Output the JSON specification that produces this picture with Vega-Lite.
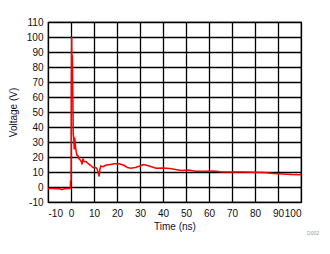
{
  "$schema": "https://vega.github.io/schema/vega-lite/v6.json",
  "width": 253,
  "height": 180,
  "autosize": {"type": "none"},
  "padding": {"left": 48, "top": 22, "right": 29, "bottom": 52},
  "background": "white",
  "title": {"text": "D002", "orient": "bottom", "anchor": "end", "fontSize": 5, "color": "#999999", "font": "Liberation Sans", "fontWeight": "normal", "offset": 0, "dx": 15},
  "config": {
    "view": {"stroke": "black", "strokeWidth": 1.2},
    "axis": {"labelFont": "Liberation Sans", "titleFont": "Liberation Sans", "labelFontSize": 10, "titleFontSize": 10, "titleFontWeight": "normal", "labelColor": "#111111", "titleColor": "#111133", "gridColor": "black", "gridWidth": 1.3, "gridOpacity": 1, "domain": false, "ticks": false, "labelExpr": "'' + datum.value"}
  },
  "data": {"values": [
    {"t": -10, "v": -1}, {"t": -8, "v": -1}, {"t": -6, "v": -1.2}, {"t": -5, "v": -1}, {"t": -4, "v": -1.8}, {"t": -3, "v": -1.2}, {"t": -1, "v": -1}, {"t": -0.3, "v": -1},
    {"t": -0.2, "v": 4}, {"t": 0.05, "v": 4}, {"t": 0.15, "v": 65}, {"t": 0.3, "v": 100}, {"t": 0.45, "v": 65}, {"t": 0.6, "v": 88}, {"t": 0.8, "v": 60},
    {"t": 1.0, "v": 35}, {"t": 1.2, "v": 33}, {"t": 1.4, "v": 25}, {"t": 1.6, "v": 33}, {"t": 1.9, "v": 28}, {"t": 2.2, "v": 24}, {"t": 2.6, "v": 21}, {"t": 3.0, "v": 21},
    {"t": 3.4, "v": 19}, {"t": 4.0, "v": 18}, {"t": 4.5, "v": 17}, {"t": 4.8, "v": 15}, {"t": 5.2, "v": 19}, {"t": 5.6, "v": 17}, {"t": 6.5, "v": 17}, {"t": 7.5, "v": 15.5},
    {"t": 8.5, "v": 14.5}, {"t": 9.5, "v": 13}, {"t": 10.5, "v": 13}, {"t": 11.2, "v": 12.5}, {"t": 11.8, "v": 10}, {"t": 12.2, "v": 7}, {"t": 12.6, "v": 12},
    {"t": 13, "v": 14}, {"t": 14, "v": 13.5}, {"t": 15, "v": 14.5}, {"t": 17, "v": 15}, {"t": 19, "v": 15.5}, {"t": 21, "v": 15.5}, {"t": 23, "v": 14.5},
    {"t": 24.5, "v": 13}, {"t": 26, "v": 12.5}, {"t": 28, "v": 13}, {"t": 30, "v": 14}, {"t": 31.5, "v": 15}, {"t": 33, "v": 14.5}, {"t": 35, "v": 13.5},
    {"t": 37, "v": 12.5}, {"t": 40, "v": 12.7}, {"t": 43, "v": 12.3}, {"t": 46, "v": 11.5}, {"t": 48, "v": 11}, {"t": 51, "v": 11.3}, {"t": 54, "v": 10.5},
    {"t": 58, "v": 10.5}, {"t": 62, "v": 10.6}, {"t": 65, "v": 10.2}, {"t": 70, "v": 10}, {"t": 75, "v": 10}, {"t": 80, "v": 9.8}, {"t": 84, "v": 9.6},
    {"t": 88, "v": 9}, {"t": 92, "v": 8.7}, {"t": 96, "v": 8.3}, {"t": 100, "v": 8.2}
  ]},
  "mark": {"type": "line", "color": "#FF0000", "strokeWidth": 1.5, "interpolate": "linear"},
  "encoding": {
    "x": {"field": "t", "type": "quantitative", "scale": {"domain": [-10, 100], "nice": false, "zero": false}, "axis": {"values": [-10, 0, 10, 20, 30, 40, 50, 60, 70, 80, 90, 100], "title": "Time (ns)", "labelPadding": 6, "titlePadding": 3}},
    "y": {"field": "v", "type": "quantitative", "scale": {"domain": [-10, 110], "nice": false, "zero": false}, "axis": {"values": [-10, 0, 10, 20, 30, 40, 50, 60, 70, 80, 90, 100, 110], "title": "Voltage (V)", "labelPadding": 5, "titlePadding": 8}}
  }
}
